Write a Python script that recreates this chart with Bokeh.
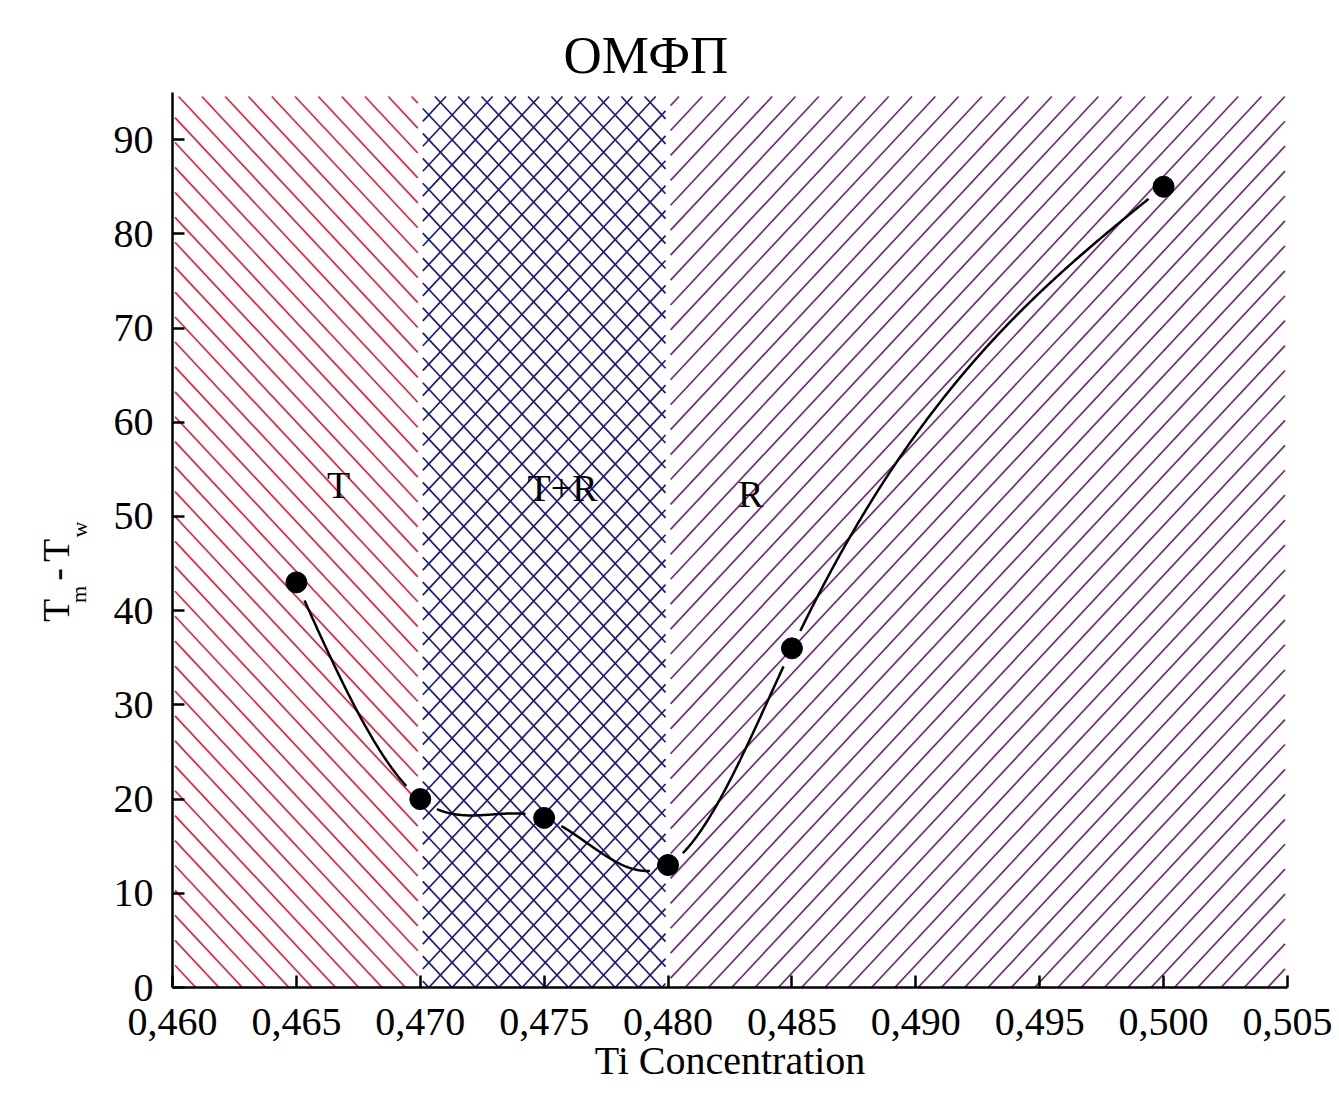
import numpy as np
from bokeh.plotting import figure
from bokeh.layouts import row
from bokeh.models import FixedTicker, Label, Title
from bokeh.embed import file_html
from bokeh.resources import INLINE

# ---------------- data ----------------
ti_conc = [0.465, 0.470, 0.475, 0.480, 0.485, 0.500]
tm_minus_tw = [43, 20, 18, 13, 36, 85]

region_names = ["T", "T+R", "R"]
region_left = [0.460, 0.470, 0.480]
region_right = [0.470, 0.480, 0.505]
region_label_x = [0.46670, 0.47574, 0.48333]
region_label_y = [53.3, 53.0, 52.4]

x_ticks = [0.460, 0.465, 0.470, 0.475, 0.480, 0.485, 0.490, 0.495, 0.500, 0.505]
x_tick_labels = ["0,460", "0,465", "0,470", "0,475", "0,480", "0,485",
                 "0,490", "0,495", "0,500", "0,505"]
y_ticks = [0, 10, 20, 30, 40, 50, 60, 70, 80, 90]

# ---------------- style / geometry ----------------
FONT = "Liberation Serif"
region_colors = ["#e8233a", "#1d1b82", "#74297e"]
region_hatch = ["\\", "x", "/"]

X0, X1 = 0.460, 0.505
Y0, Y1 = 0.0, 95.0
LW = 100                      # width of the side panel holding the y title
FW, FH = 1115, 895            # plot frame size
ML, MR, MT, MB = 72, 48, 92, 100
px_x = FW / (X1 - X0)
px_y = FH / (Y1 - Y0)

p = figure(frame_width=FW, frame_height=FH, x_range=(X0, X1), y_range=(Y0, Y1),
           output_backend="svg", toolbar_location=None,
           min_border_left=ML, min_border_right=MR,
           min_border_top=MT, min_border_bottom=MB)
p.outline_line_color = None
p.grid.visible = False
p.background_fill_color = "white"
p.border_fill_color = "white"


# ---------------- hatching (slanted line patterns) ----------------
def hatch(x0d, x1d, direction, spacing=23.3, slope=1.07, inset=2.5, top_inset=4):
    ax0 = (x0d - X0) * px_x + inset
    ax1 = (x1d - X0) * px_x - inset
    ay0, ay1 = 0.0, FH - top_inset
    xs_out, ys_out = [], []
    if direction == "/":
        start, end = ax0 - ay1 / slope, ax1
    else:
        start, end = ax0, ax1 + ay1 / slope
    for cc in np.arange(np.floor(start / spacing) * spacing, end + spacing, spacing):
        if direction == "/":
            ya = max(ay0, slope * (ax0 - cc))
            yb = min(ay1, slope * (ax1 - cc))
            xa, xb = cc + ya / slope, cc + yb / slope
        else:
            ya = max(ay0, slope * (cc - ax1))
            yb = min(ay1, slope * (cc - ax0))
            xa, xb = cc - ya / slope, cc - yb / slope
        if yb > ya:
            xs_out.append([X0 + xa / px_x, X0 + xb / px_x])
            ys_out.append([Y0 + ya / px_y, Y0 + yb / px_y])
    return xs_out, ys_out


p.quad(left=region_left, right=region_right, bottom=[Y0] * 3, top=[Y1] * 3,
       fill_color="white", line_color=None)
for l, r_, col, pat in zip(region_left, region_right, region_colors, region_hatch):
    dirs = ["/", "\\"] if pat == "x" else [pat]
    for dd in dirs:
        hx, hy = hatch(l, r_, dd)
        p.multi_line(hx, hy, line_color=col, line_width=1.7)

# ---------------- smooth connecting curve (natural cubic spline) ----------------
xs = np.array(ti_conc, dtype=float)
ys = np.array(tm_minus_tw, dtype=float)
n = len(xs)
h = np.diff(xs)
A = np.zeros((n, n))
rr = np.zeros(n)
A[0, 0] = 1.0
A[-1, -1] = 1.0
for i in range(1, n - 1):
    A[i, i - 1] = h[i - 1]
    A[i, i] = 2 * (h[i - 1] + h[i])
    A[i, i + 1] = h[i]
    rr[i] = 3 * ((ys[i + 1] - ys[i]) / h[i] - (ys[i] - ys[i - 1]) / h[i - 1])
c = np.linalg.solve(A, rr)
b = (ys[1:] - ys[:-1]) / h - h * (2 * c[:-1] + c[1:]) / 3
d = (c[1:] - c[:-1]) / (3 * h)

xq = np.linspace(xs[0], xs[-1], 1500)
idx = np.clip(np.searchsorted(xs, xq) - 1, 0, n - 2)
dx = xq - xs[idx]
yq = ys[idx] + b[idx] * dx + c[idx] * dx ** 2 + d[idx] * dx ** 3

gap_px = 19
dist = np.min(np.hypot((xq[:, None] - xs[None, :]) * px_x,
                       (yq[:, None] - ys[None, :]) * px_y), axis=1)
yq_gapped = np.where(dist > gap_px, yq, np.nan)
p.line(xq, yq_gapped, line_color="black", line_width=2.5)

p.scatter(ti_conc, tm_minus_tw, size=21, marker="circle",
          fill_color="black", line_color="black")

for name, lx, ly in zip(region_names, region_label_x, region_label_y):
    p.add_layout(Label(x=lx, y=ly, text=name, text_align="center",
                       text_baseline="alphabetic", text_font=FONT,
                       text_font_size="38px", text_color="black"))

# ---------------- axes ----------------
for ax in (p.xaxis[0], p.yaxis[0]):
    ax.axis_line_width = 2.5
    ax.axis_line_color = "black"
    ax.major_tick_line_width = 2.5
    ax.major_tick_line_color = "black"
    ax.major_tick_in = 12
    ax.major_tick_out = 0
    ax.minor_tick_line_color = None
    ax.major_label_text_font = FONT
    ax.major_label_text_font_size = "40px"
    ax.major_label_text_color = "black"

p.xaxis.ticker = FixedTicker(ticks=x_ticks)
p.xaxis.major_label_overrides = {t: lab for t, lab in zip(x_ticks, x_tick_labels)}
p.xaxis.major_label_standoff = 21
p.xaxis.axis_label = "Ti Concentration"
p.xaxis.axis_label_text_font = FONT
p.xaxis.axis_label_text_font_size = "40px"
p.xaxis.axis_label_text_font_style = "normal"
p.xaxis.axis_label_text_color = "black"
p.xaxis.axis_label_standoff = 0

p.yaxis.ticker = FixedTicker(ticks=y_ticks)
p.yaxis.major_label_standoff = 19

p.title = Title(text="ОМФП", align="left", offset=391, text_font=FONT,
                text_font_size="53px", text_font_style="normal",
                text_color="black", standoff=18)

# ---------------- y-axis title T_m-T_w (side panel sharing the y scale) ----------------
side = figure(frame_width=LW, frame_height=FH, x_range=(0, LW), y_range=p.y_range,
              output_backend="svg", toolbar_location=None,
              x_axis_type=None, y_axis_type=None,
              min_border_left=0, min_border_right=0,
              min_border_top=MT, min_border_bottom=MB)
side.outline_line_color = None
side.grid.visible = False
side.background_fill_color = "white"
side.border_fill_color = "white"


def ydata(py):
    # screen row (from the top of the page) -> value on the shared y scale
    return Y0 + (MT + FH - py) / px_y


main_txt = ["T", "-", "T"]
main_cx = [55, 57, 55]
main_cy = [610, 574, 550]
sub_txt = ["m", "w"]
sub_cx = [78, 79]
sub_cy = [594, 529]
side.text(x=main_cx, y=[ydata(v) for v in main_cy], text=main_txt, angle=np.pi / 2,
          text_align="center", text_baseline="middle", text_font_size="38px",
          text_font={"value": FONT}, text_color="black")
side.text(x=sub_cx, y=[ydata(v) for v in sub_cy], text=sub_txt, angle=np.pi / 2,
          text_align="center", text_baseline="middle", text_font_size="22px",
          text_font={"value": FONT}, text_color="black")

layout = row(side, p)
open("out.html", "w").write(file_html(layout, INLINE))
